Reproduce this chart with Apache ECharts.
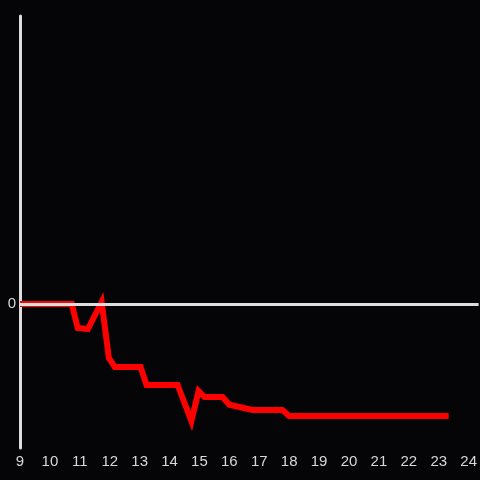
<!DOCTYPE html>
<html>
<head>
<meta charset="utf-8">
<script src="https://cdn.jsdelivr.net/npm/echarts@6/dist/echarts.min.js"></script>
<style>
  html, body { margin: 0; padding: 0; background: #050407; }
  #chart { width: 480px; height: 480px; }
</style>
</head>
<body>
<div id="chart"></div>
<script>
// hour of day vs value
var hours = [9.0, 10.73, 10.93, 11.27, 11.73, 11.97, 12.17, 13.03, 13.23, 14.27, 14.73, 14.97, 15.17, 15.77, 16.0, 16.77, 17.77, 18.0, 23.33];
var values = [0, 0, -0.167, -0.174, 0.014, -0.375, -0.4375, -0.4375, -0.5625, -0.5625, -0.8125, -0.604, -0.646, -0.646, -0.70, -0.736, -0.736, -0.778, -0.778];
var zeroLine = [0];

var chart = echarts.init(document.getElementById('chart'));

var points = hours.map(function (h, i) { return [h, values[i]]; });

var option = {
  backgroundColor: '#050407',
  animation: false,
  grid: {
    left: 20,
    right: 0,
    top: 16,
    bottom: 32
  },
  xAxis: {
    type: 'value',
    min: 9,
    max: 24.333,
    interval: 1,
    axisLine: { show: false },
    axisTick: { show: false },
    splitLine: { show: false },
    axisLabel: {
      showMaxLabel: false,
      color: '#d8d8d8',
      fontSize: 15,
      margin: 6,
      fontFamily: 'Liberation Sans'
    }
  },
  yAxis: {
    type: 'value',
    min: -1,
    max: 2,
    interval: 1,
    axisLine: {
      show: true,
      onZero: false,
      lineStyle: { color: '#dddddd', width: 3 }
    },
    axisTick: { show: false },
    splitLine: { show: false },
    axisLabel: {
      color: '#d8d8d8',
      fontSize: 15,
      margin: 4,
      padding: [4, 0, 0, 0],
      fontFamily: 'Liberation Sans',
      formatter: function (v) { return v === 0 ? '0' : ''; }
    }
  },
  series: [{
    type: 'line',
    z: 1,
    data: [],
    markLine: {
      silent: true,
      symbol: 'none',
      label: { show: false },
      lineStyle: { color: '#dddddd', width: 3, type: 'solid' },
      data: zeroLine.map(function (v) { return { yAxis: v }; })
    }
  }, {
    type: 'line',
    z: 3,
    data: points,
    showSymbol: false,
    lineStyle: { color: '#ff0000', width: 6, join: 'miter' }
  }]
};

chart.setOption(option);
</script>
</body>
</html>
